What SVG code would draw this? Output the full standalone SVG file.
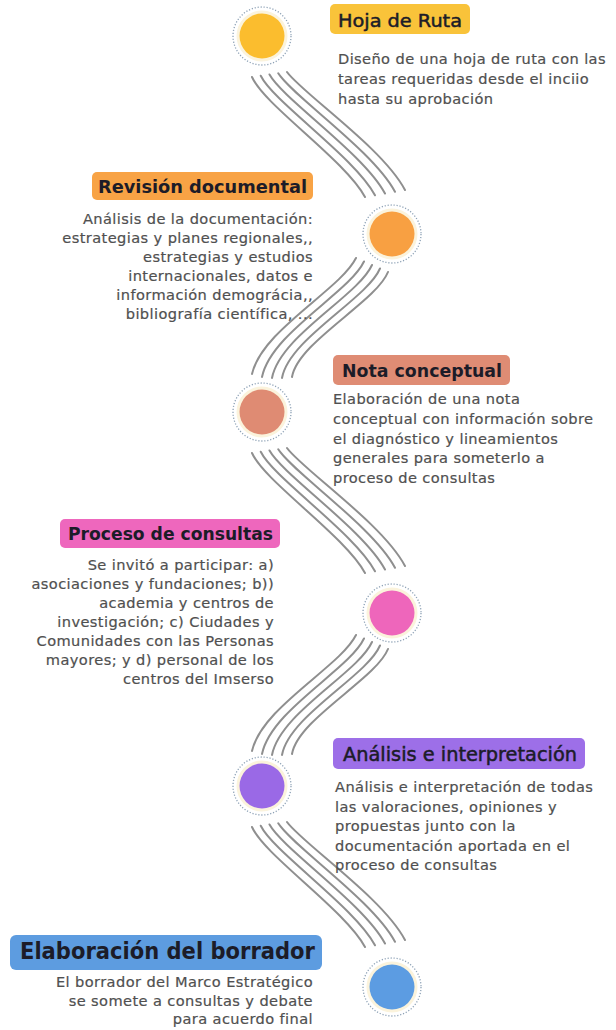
<svg xmlns="http://www.w3.org/2000/svg" width="616" height="1030" viewBox="0 0 616 1030">
<style>
.wave{fill:none;stroke:#8f8f8f;stroke-width:2;stroke-linecap:round}
.ring{fill:none;stroke:#8ea2b6;stroke-width:1.3;stroke-dasharray:1.2 1.8}
.halo{fill:#fbf3dc}
.title{font-family:"DejaVu Sans",sans-serif;font-weight:bold;fill:#1c1c28}
.med{font-family:"DejaVu Sans",sans-serif;fill:#1c1c28;stroke:#1c1c28;stroke-width:0.5}
.body{font-family:"DejaVu Sans",sans-serif;font-size:14.6px;fill:#505050;stroke:#505050;stroke-width:0.2;letter-spacing:0.4px}
.r{text-anchor:end}
</style>
<defs>
<path id="b1" d="M252,77 C264,105 345,160 365,197 M260.75,75.75 C273.5,102 354.5,157 375,195.25 M269.5,74.5 C283,99 364,154 385,193.5 M278.25,73.25 C292.5,96 373.5,151 395,191.75 M287,72 C302,93 383,148 405,190"/>
<path id="b2" d="M356,258 C340,290 262,330 252,374 M364,261.5 C349,293 271,333 262,377 M372,265 C358,296 280,336 272,378 M380,268.5 C367,299 289,339 282,378 M388,272 C376,302 298,342 292,377"/>
</defs>
<rect width="616" height="1030" fill="#ffffff"/>
<g id="connectors" class="wave">
<use href="#b1"/>
<use href="#b2"/>
<use href="#b1" transform="translate(0,376)"/>
<use href="#b2" transform="translate(0,377)"/>
<use href="#b1" transform="translate(0,750)"/>
</g>
<g id="node-hoja-de-ruta">
<circle class="ring" cx="262" cy="36" r="29"/>
<circle class="halo" cx="262" cy="36" r="25.5"/>
<circle cx="262" cy="36" r="22.5" fill="#fbbd2e"/>
<rect x="330" y="4" width="140" height="30" rx="5" fill="#f9c33a"/>
<text class="med" x="338" y="26.5" font-size="18.5" textLength="124" lengthAdjust="spacingAndGlyphs">Hoja de Ruta</text>
<text class="body" x="338" y="64">Diseño de una hoja de ruta con las</text>
<text class="body" x="338" y="84">tareas requeridas desde el inciio</text>
<text class="body" x="338" y="104">hasta su aprobación</text>
</g>
<g id="node-revision-documental">
<circle class="ring" cx="392" cy="234" r="29"/>
<circle class="halo" cx="392" cy="234" r="25.5"/>
<circle cx="392" cy="234" r="22.5" fill="#f8a042"/>
<rect x="92" y="172" width="221" height="28" rx="5" fill="#f8a345"/>
<text class="title" x="98" y="193" font-size="18" textLength="209" lengthAdjust="spacingAndGlyphs">Revisión documental</text>
<text class="body r" x="313" y="224">Análisis de la documentación:</text>
<text class="body r" x="313" y="243">estrategias y planes regionales,,</text>
<text class="body r" x="313" y="262">estrategias y estudios</text>
<text class="body r" x="313" y="281">internacionales, datos e</text>
<text class="body r" x="313" y="300">información demográcia,,</text>
<text class="body r" x="313" y="319">bibliografía científica, ...</text>
</g>
<g id="node-nota-conceptual">
<circle class="ring" cx="262" cy="412" r="29"/>
<circle class="halo" cx="262" cy="412" r="25.5"/>
<circle cx="262" cy="412" r="22.5" fill="#df8b73"/>
<rect x="333" y="355" width="177" height="30" rx="5" fill="#df8c74"/>
<text class="title" x="342" y="377" font-size="18" textLength="160" lengthAdjust="spacingAndGlyphs">Nota conceptual</text>
<text class="body" x="333" y="404">Elaboración de una nota</text>
<text class="body" x="333" y="424">conceptual con información sobre</text>
<text class="body" x="333" y="443.5">el diagnóstico y lineamientos</text>
<text class="body" x="333" y="463">generales para someterlo a</text>
<text class="body" x="333" y="483">proceso de consultas</text>
</g>
<g id="node-proceso-de-consultas">
<circle class="ring" cx="392" cy="613" r="29"/>
<circle class="halo" cx="392" cy="613" r="25.5"/>
<circle cx="392" cy="613" r="22.5" fill="#ee66bb"/>
<rect x="60" y="519" width="220" height="29" rx="5" fill="#ee67bd"/>
<text class="title" x="68" y="540" font-size="18" textLength="205" lengthAdjust="spacingAndGlyphs">Proceso de consultas</text>
<text class="body r" x="274" y="570">Se invitó a participar: a)</text>
<text class="body r" x="274" y="589">asociaciones y fundaciones; b))</text>
<text class="body r" x="274" y="608">academia y centros de</text>
<text class="body r" x="274" y="627">investigación; c) Ciudades y</text>
<text class="body r" x="274" y="646">Comunidades con las Personas</text>
<text class="body r" x="274" y="665">mayores; y d)  personal de los</text>
<text class="body r" x="274" y="684">centros del Imserso</text>
</g>
<g id="node-analisis-e-interpretacion">
<circle class="ring" cx="262" cy="786" r="29"/>
<circle class="halo" cx="262" cy="786" r="25.5"/>
<circle cx="262" cy="786" r="22.5" fill="#9a69e6"/>
<rect x="333" y="738" width="252" height="31" rx="5" fill="#9d6fe8"/>
<text class="med" x="343" y="761" font-size="19" textLength="234" lengthAdjust="spacingAndGlyphs">Análisis e interpretación</text>
<text class="body" x="335" y="792">Análisis e interpretación de todas</text>
<text class="body" x="335" y="811.5">las valoraciones, opiniones y</text>
<text class="body" x="335" y="831">propuestas junto con la</text>
<text class="body" x="335" y="850.5">documentación aportada en el</text>
<text class="body" x="335" y="870">proceso de consultas</text>
</g>
<g id="node-elaboracion-del-borrador">
<circle class="ring" cx="392" cy="987" r="29"/>
<circle class="halo" cx="392" cy="987" r="25.5"/>
<circle cx="392" cy="987" r="22.5" fill="#5c9ce2"/>
<rect x="10" y="935" width="312" height="35" rx="6" fill="#5d9ce0"/>
<text class="title" x="20" y="959" font-size="22.5" textLength="295" lengthAdjust="spacingAndGlyphs">Elaboración del borrador</text>
<text class="body r" x="313" y="987">El borrador del Marco Estratégico</text>
<text class="body r" x="313" y="1005.5">se somete a consultas y debate</text>
<text class="body r" x="313" y="1024">para acuerdo final</text>
</g>
</svg>
